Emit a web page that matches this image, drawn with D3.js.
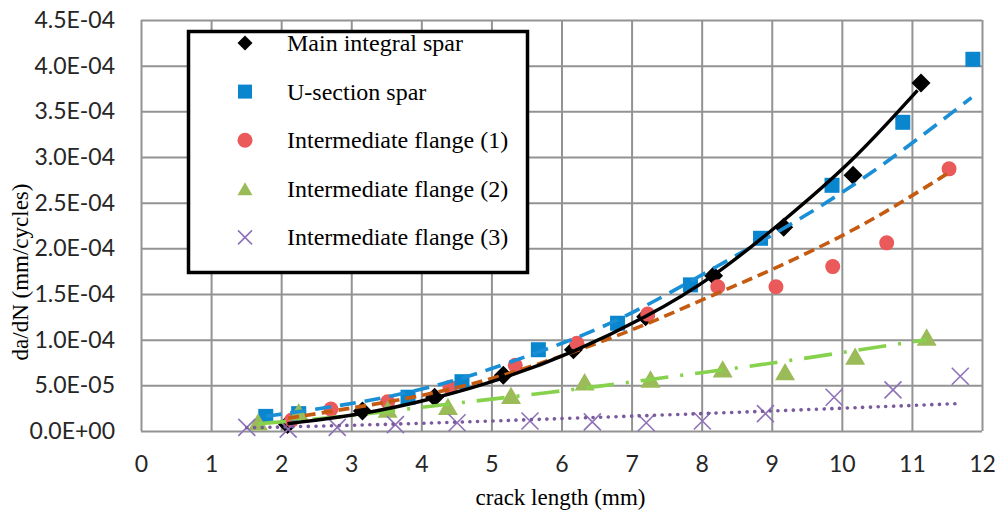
<!DOCTYPE html>
<html>
<head>
<meta charset="utf-8">
<script src="https://cdn.jsdelivr.net/npm/d3@7"></script>
<style>
  html, body { margin: 0; padding: 0; background: #ffffff; }
  svg { display: block; }
</style>
</head>
<body>
<svg id="chart" width="998" height="512"></svg>
<script>
// ---------- data (y values in units of 1E-04 mm/cycle) ----------
const UNIT = 1e-4;
const xTickValues = [0,1,2,3,4,5,6,7,8,9,10,11,12];
const yTickValues = [0,0.5,1.0,1.5,2.0,2.5,3.0,3.5,4.0,4.5];

const seriesNames = ["Main integral spar","U-section spar","Intermediate flange (1)","Intermediate flange (2)","Intermediate flange (3)"];

const mainX = [2.09,3.16,4.19,5.17,6.17,7.20,8.17,9.17,10.16,11.13];
const mainY = [0.07,0.22,0.37,0.61,0.89,1.25,1.70,2.23,2.80,3.81];

const uX = [1.78,2.25,3.81,4.58,5.67,6.80,7.84,8.84,9.86,10.87,11.87];
const uY = [0.16,0.19,0.37,0.54,0.89,1.18,1.60,2.11,2.69,3.38,4.07];

const f1X = [2.15,2.71,3.52,4.41,5.34,6.22,7.23,8.23,9.06,9.87,10.64,11.53];
const f1Y = [0.12,0.24,0.32,0.48,0.72,0.96,1.28,1.58,1.58,1.80,2.06,2.87];

const f2X = [1.67,2.25,3.52,4.38,5.28,6.33,7.27,8.30,9.19,10.19,11.21];
const f2Y = [0.10,0.21,0.24,0.27,0.39,0.54,0.57,0.68,0.65,0.82,1.03];

const f3X = [1.51,2.10,2.80,3.63,4.51,5.55,6.44,7.21,8.01,8.91,9.89,10.73,11.69];
const f3Y = [0.04,0.02,0.04,0.07,0.09,0.11,0.10,0.09,0.11,0.19,0.37,0.45,0.60];

// trendlines
const mainTrendX = [2.09,3.16,4.17,5.17,6.17,7.20,8.17,9.17,10.16,11.08];
const mainTrendY = [0.08,0.18,0.35,0.57,0.86,1.24,1.68,2.30,2.95,3.73];

const uTrendX = [1.78,2.60,3.40,4.20,4.90,6.10,6.80,7.50,8.56,9.50,10.55,11.85];
const uTrendY = [0.16,0.25,0.35,0.49,0.65,0.98,1.21,1.49,1.95,2.36,2.88,3.65];

const f1TrendX = [2.10,3.00,4.00,5.10,6.30,7.20,8.10,9.00,10.00,10.70,11.53];
const f1TrendY = [0.14,0.25,0.38,0.58,0.90,1.16,1.47,1.76,2.13,2.43,2.83];

const f2TrendX = [1.67,2.84,3.99,5.25,6.56,7.80,9.10,10.17,11.21];
const f2TrendY = [0.08,0.15,0.26,0.37,0.49,0.62,0.75,0.88,1.00];

const f3TrendX = [1.51,3.50,5.60,8.40,11.66];
const f3TrendY = [0.035,0.07,0.125,0.20,0.30];

// ---------- layout ----------
const svg = d3.select("#chart");
const x = d3.scaleLinear().domain([0,12]).range([141,982]);
const y = d3.scaleLinear().domain([0,4.5]).range([431,20]);

const gridColor = "#939393";
const tickFont = "Lato, 'Liberation Sans', sans-serif";
const serif = "'Liberation Serif', 'Times New Roman', serif";

function fmtE(v) {
  const val = v * UNIT;
  if (val === 0) return "0.0E+00";
  let s = val.toExponential(1);
  let [m, e] = s.split("e");
  const sign = e[0] === "-" ? "-" : "+";
  let digits = e.replace(/[+-]/, "");
  if (digits.length < 2) digits = "0" + digits;
  return m + "E" + sign + digits;
}

// gridlines + tick labels
const gy = svg.append("g").attr("transform", `translate(141,0)`)
  .call(d3.axisLeft(y).tickValues(yTickValues).tickSize(-(982-141)).tickFormat(fmtE).tickPadding(26));
gy.select(".domain").remove();
gy.selectAll(".tick line").attr("stroke", gridColor).attr("stroke-width", 2);
gy.selectAll(".tick text").attr("font-family", tickFont).attr("font-size", 23).attr("fill", "#262626");

const gx = svg.append("g").attr("transform", `translate(0,431)`)
  .call(d3.axisBottom(x).tickValues(xTickValues).tickSize(-(431-20)).tickFormat(d3.format("d")).tickPadding(25));
gx.select(".domain").remove();
gx.selectAll(".tick line").attr("stroke", gridColor).attr("stroke-width", 2);
gx.selectAll(".tick text").attr("font-family", tickFont).attr("font-size", 23).attr("fill", "#262626");

// axis titles
svg.append("text").attr("x", (141+982)/2 - 1).attr("y", 505)
  .attr("text-anchor", "middle").attr("font-family", serif).attr("font-size", 23)
  .attr("fill", "#000").text("crack length (mm)");
svg.append("text").attr("transform", "translate(28,272) rotate(-90)")
  .attr("text-anchor", "middle").attr("font-family", serif).attr("font-size", 23)
  .attr("fill", "#000").text("da/dN (mm/cycles)");

// ---------- marker helpers ----------
const colBlack = "#000000", colBlue = "#0a86cf", colRed = "#ea5a5a", colGreen = "#9bbb59", colPurple = "#8e72b8";
function drawMarker(g, type, cx, cy, s) {
  if (type === "diamond") {
    g.append("path").attr("d", d3.symbol(d3.symbolSquare, s*s*0.5)())
      .attr("transform", `translate(${cx},${cy}) rotate(45)`).attr("fill", colBlack);
  } else if (type === "square") {
    g.append("rect").attr("x", cx - s/2).attr("y", cy - s/2).attr("width", s).attr("height", s).attr("fill", colBlue);
  } else if (type === "circle") {
    g.append("circle").attr("cx", cx).attr("cy", cy).attr("r", s/2).attr("fill", colRed);
  } else if (type === "triangle") {
    const h = s * 0.87;
    g.append("path").attr("d", `M${cx},${cy - h/2}L${cx + s/2},${cy + h/2}L${cx - s/2},${cy + h/2}Z`).attr("fill", colGreen);
  } else if (type === "x") {
    const r = s/2;
    g.append("path").attr("d", `M${cx-r},${cy-r}L${cx+r},${cy+r}M${cx-r},${cy+r}L${cx+r},${cy-r}`)
      .attr("stroke", colPurple).attr("stroke-width", 1.6).attr("fill", "none");
  }
}

const series = [
  {xs: mainX, ys: mainY, type: "diamond", size: 19},
  {xs: f1X, ys: f1Y, type: "circle", size: 15},
  {xs: uX, ys: uY, type: "square", size: 15},
  {xs: f2X, ys: f2Y, type: "triangle", size: 20},
  {xs: f3X, ys: f3Y, type: "x", size: 17},
];
const gm = svg.append("g");
series.forEach(s => {
  s.xs.forEach((xv, i) => drawMarker(gm, s.type, x(xv), y(s.ys[i]), s.size));
});

// ---------- trendlines ----------
const line = d3.line().x(d => x(d[0])).y(d => y(d[1])).curve(d3.curveBasis);
const zip = (a, b) => a.map((v, i) => [v, b[i]]);
const trends = [
  {pts: zip(f3TrendX, f3TrendY), color: "#7a5a9c", width: 3.6, dash: "0.1,7.6", cap: "round"},
  {pts: zip(f2TrendX, f2TrendY), color: "#86d24c", width: 3.6, dash: "28,12,3,12", cap: "butt"},
  {pts: zip(f1TrendX, f1TrendY), color: "#c55a11", width: 3.6, dash: "11,6", cap: "butt"},
  {pts: zip(uTrendX, uTrendY), color: "#1b8fd6", width: 3.6, dash: "16,9", cap: "butt"},
  {pts: zip(mainTrendX, mainTrendY), color: "#000000", width: 3.4, dash: null, cap: "butt"},
];
trends.forEach(t => {
  svg.append("path").attr("d", line(t.pts)).attr("fill", "none")
    .attr("stroke", t.color).attr("stroke-width", t.width)
    .attr("stroke-dasharray", t.dash).attr("stroke-linecap", t.cap);
});

// ---------- legend ----------
const lg = svg.append("g");
lg.append("rect").attr("x", 188.5).attr("y", 31.5).attr("width", 339).attr("height", 241)
  .attr("fill", "#ffffff").attr("stroke", "#000").attr("stroke-width", 3.5);
const legendTypes = ["diamond","square","circle","triangle","x"];
const legendSizes = [15, 14, 15, 15, 14];
seriesNames.forEach((name, i) => {
  const cy = 43 + i * 48.6;
  drawMarker(lg, legendTypes[i], 245, cy, legendSizes[i]);
  lg.append("text").attr("x", 287).attr("y", cy + 8).attr("font-family", serif)
    .attr("font-size", 24).attr("fill", "#000").text(name);
});
</script>
</body>
</html>
